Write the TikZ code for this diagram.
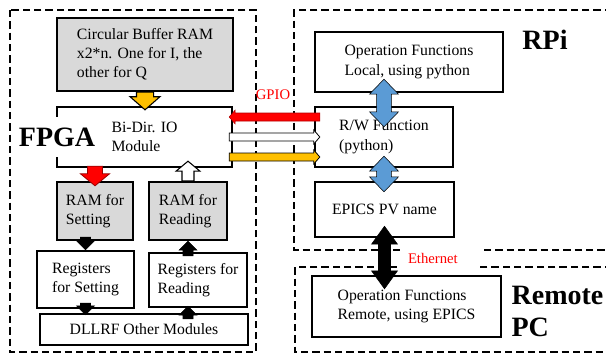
\documentclass[tikz,border=0pt]{standalone}
\usepackage{fontspec}
\setmainfont{Liberation Serif}
\usetikzlibrary{calc}
\definecolor{boxgray}{HTML}{D9D9D9}
\definecolor{gpioorange}{HTML}{FFC000}
\definecolor{linkblue}{HTML}{5B9BD5}
% block arrow: style, shaft half width, head half width, head length, from, to
\newcommand{\barrow}[6]{%
\path #5 coordinate (bA) #6 coordinate (bB);
\path ($(bB)!#4!(bA)$) coordinate (bH);
\filldraw[#1] ($(bA)!#2!90:(bB)$) -- ($(bH)!#2!90:(bB)$) -- ($(bH)!#3!90:(bB)$) -- (bB)
 -- ($(bH)!#3!-90:(bB)$) -- ($(bH)!#2!-90:(bB)$) -- ($(bA)!#2!-90:(bB)$) -- cycle;}
% double block arrow
\newcommand{\dbarrow}[6]{%
\path #5 coordinate (bA) #6 coordinate (bB);
\path ($(bA)!#4!(bB)$) coordinate (bH1) ($(bB)!#4!(bA)$) coordinate (bH2);
\filldraw[#1] (bA) -- ($(bH1)!#3!90:(bB)$) -- ($(bH1)!#2!90:(bB)$) -- ($(bH2)!#2!90:(bB)$)
 -- ($(bH2)!#3!90:(bB)$) -- (bB) -- ($(bH2)!#3!-90:(bB)$) -- ($(bH2)!#2!-90:(bB)$)
 -- ($(bH1)!#2!-90:(bB)$) -- ($(bH1)!#3!-90:(bB)$) -- cycle;}
\begin{document}
\begin{tikzpicture}[x=0.75pt,y=-0.75pt,
  every node/.style={font=\fontsize{11.8}{14.3}\selectfont},
  blk/.style={draw, line width=1.8pt, fill=white, align=left, inner sep=0pt},
  grayblk/.style={blk, fill=boxgray},
  region/.style={line width=1.5pt, dash pattern=on 5.5pt off 3pt},
  title/.style={font=\fontsize{21}{24}\selectfont\bfseries, align=left, inner sep=1pt},
  tag/.style={text=red, font=\fontsize{11}{13}\selectfont}]
\useasboundingbox (0,0) rectangle (606,354);

% dashed regions
\draw[region] (10,10) rectangle (256,352);
\draw[region] (612,10) -- (294,10) -- (294,250) -- (612,250);
\draw[region] (612,267) -- (295,267) -- (295,352) -- (612,352);

% FPGA side
\node[grayblk, minimum width=132pt, minimum height=54.75pt] (buf) at (145,54.5) {Circular Buffer RAM\\x2*n. One for I, the\\other for Q};
\node[blk, minimum width=131.25pt, minimum height=45pt] (bidir) at (144.5,137) {Bi-Dir. IO\\Module};
\node[grayblk, minimum width=57pt, minimum height=43.5pt] (ramset) at (95,211) {RAM for\\Setting};
\node[grayblk, minimum width=58.5pt, minimum height=43.5pt] (ramread) at (188,211) {RAM for\\Reading};
\node[blk, minimum width=72.75pt, minimum height=42.75pt] (regset) at (85.5,279.5) {Registers\\for Setting};
\node[blk, minimum width=73.5pt, minimum height=40.5pt] (regread) at (198,280) {Registers for\\Reading};
\node[blk, minimum width=156pt, minimum height=23.25pt] (dllrf) at (144,329.5) {DLLRF Other Modules};

% RPi side
\node[blk, minimum width=141pt, minimum height=45pt] (oplocal) at (409,62) {Operation Functions\\Local, using python};
\node[blk, minimum width=103.5pt, minimum height=45pt] (rw) at (384,137) {R/W Function\\(python)};
\node[blk, minimum width=104.25pt, minimum height=41.25pt] (epics) at (384.5,209.5) {EPICS PV name};
\node[blk, minimum width=141.75pt, minimum height=45.75pt] (opremote) at (406.5,306.5) {Operation Functions\\Remote, using EPICS};

% labels
\node[title, fill=white, inner ysep=8pt] (fpga) at (57,137) {FPGA};
\node[title] (rpi) at (545,40) {RPi};
\node[title, anchor=west] (remote) at (510,311) {Remote\\PC};
\node[tag] (gpio) at (273,95) {GPIO};
\node[tag, fill=white, text width=48pt, inner xsep=6pt, minimum height=16.5pt, align=left] (eth) at (440,258.5) {Ethernet};

% FPGA internal arrows
\barrow{draw=black, line width=0.8pt, fill=gpioorange}{6.4pt}{11.2pt}{9.8pt}{(buf.south)}{($(buf.south |- bidir.north)+(0,4)$)}
\barrow{draw=red!60!black, line width=0.6pt, fill=red}{5.6pt}{10.9pt}{9pt}{($(ramset.north |- bidir.south)+(0,-2)$)}{($(ramset.north)+(0,5)$)}
\barrow{draw=black, line width=0.8pt, fill=white}{4.5pt}{9pt}{7.5pt}{(ramread.north)}{($(ramread.north |- bidir.south)+(0,-7)$)}
\barrow{fill=black}{3.75pt}{6.75pt}{6.75pt}{($(regset.north |- ramset.south)+(0,-4)$)}{(regset.north)}
\barrow{fill=black}{3.75pt}{6.75pt}{6.75pt}{($(regset.south)+(0,-6)$)}{($(regset.south |- dllrf.north)+(0,2)$)}
\barrow{fill=black}{3.75pt}{6.75pt}{6.75pt}{($(ramread.south |- regread.north)+(0,4)$)}{(ramread.south)}
\barrow{fill=black}{3.75pt}{6.75pt}{6.75pt}{($(ramread.south |- dllrf.north)+(0,6)$)}{($(ramread.south |- regread.south)+(0,-2)$)}

% GPIO lines
\barrow{fill=red, draw=red!70!black, line width=0.4pt}{3pt}{5.25pt}{4.5pt}{($(rw.west)+(6,-20)$)}{($(bidir.east)+(-4,-20)$)}
\barrow{fill=white, draw=black, line width=0.6pt}{3pt}{5.25pt}{4.5pt}{($(bidir.east)+(-4,0)$)}{($(rw.west)+(6,0)$)}
\barrow{fill=gpioorange, draw=black, line width=0.6pt}{3pt}{5.25pt}{4.5pt}{($(bidir.east)+(-4,20)$)}{($(rw.west)+(6,20)$)}

% RPi links
\dbarrow{fill=linkblue}{5.6pt}{10.9pt}{11.25pt}{($(rw.north |- oplocal.south)+(0,-14)$)}{($(rw.north)+(0,21)$)}
\dbarrow{fill=linkblue}{5.6pt}{10.9pt}{11.25pt}{($(rw.south)+(0,-12)$)}{($(rw.south |- epics.north)+(0,11)$)}
\dbarrow{fill=black}{4.5pt}{9.75pt}{13.5pt}{($(epics.south)+(0,-12)$)}{($(epics.south |- opremote.north)+(0,14)$)}
\end{tikzpicture}
\end{document}
